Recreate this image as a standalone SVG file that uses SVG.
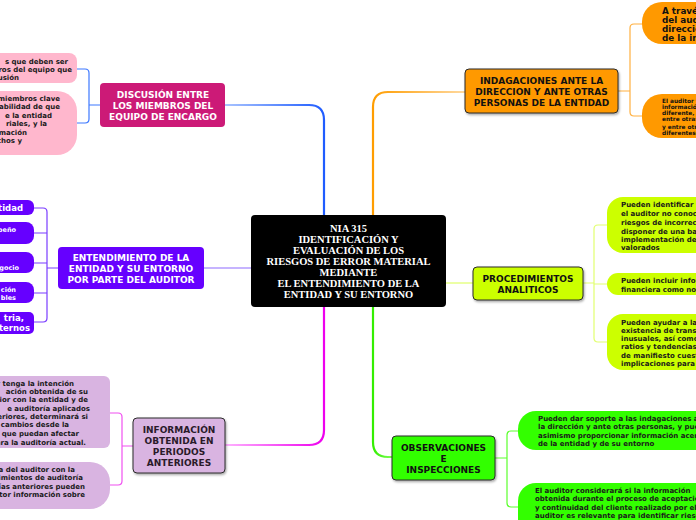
<svg xmlns="http://www.w3.org/2000/svg" width="696" height="520" viewBox="0 0 696 520">
<defs>
<style>
.t{font-family:"DejaVu Sans",Verdana,sans-serif;font-weight:bold}
.m{font-size:9px;text-anchor:middle}
.c{font-size:7px;fill:#1a1a1a}
.e{text-anchor:end}
.w{fill:#ffffff}
.ctr{font-family:"Liberation Serif","Times New Roman",serif;font-weight:bold;font-size:10.5px;fill:#ffffff;text-anchor:middle}
.bd{stroke:#2b2b2b;stroke-width:1}
.cn{fill:none;stroke-linecap:round}
</style>
<linearGradient id="gBlue" gradientUnits="userSpaceOnUse" x1="225" y1="0" x2="324" y2="0"><stop offset="0" stop-color="#a9c4ff"/><stop offset="1" stop-color="#1f5cff"/></linearGradient>
<linearGradient id="gOrange" gradientUnits="userSpaceOnUse" x1="465" y1="0" x2="373" y2="0"><stop offset="0" stop-color="#ffd9a0"/><stop offset="1" stop-color="#ff9d00"/></linearGradient>
<linearGradient id="gMag" gradientUnits="userSpaceOnUse" x1="225" y1="0" x2="324" y2="0"><stop offset="0" stop-color="#ffb3ff"/><stop offset="1" stop-color="#ee00ee"/></linearGradient>
<linearGradient id="gGreen" gradientUnits="userSpaceOnUse" x1="392" y1="0" x2="373" y2="0"><stop offset="0" stop-color="#7dff55"/><stop offset="1" stop-color="#33ee00"/></linearGradient>
<filter id="sh" x="-10%" y="-10%" width="130%" height="140%"><feDropShadow dx="1" dy="1.5" stdDeviation="0.8" flood-color="#000" flood-opacity="0.35"/></filter>
</defs>
<rect width="696" height="520" fill="#ffffff"/>

<g id="connectors">
<path class="cn" d="M324,215 V120 Q324,105 309,105 H225" stroke="url(#gBlue)" stroke-width="2.2"/>
<path class="cn" d="M373,215 V107 Q373,92 388,92 H465" stroke="url(#gOrange)" stroke-width="2.2"/>
<path class="cn" d="M324,307 V430 Q324,445 309,445 H225" stroke="url(#gMag)" stroke-width="2.2"/>
<path class="cn" d="M373,307 V442 Q373,457 388,457 H392" stroke="url(#gGreen)" stroke-width="2.2"/>
<path class="cn" d="M251,268 H204" stroke="#b49cff" stroke-width="1.5"/>
<path class="cn" d="M446,283 H473" stroke="#e6ff88" stroke-width="1.5"/>

<path class="cn" d="M77,69 H85 Q89,69 89,73 V119 Q89,123 85,123 H77 M89,105 H100" stroke="#3d78ff" stroke-width="1.2"/>
<path class="cn" d="M34,208 H43 Q47,208 47,212 V318 Q47,322 43,322 H34 M34,233 H47 M34,263 H47 M34,293 H47 M47,268 H58" stroke="#7a3cff" stroke-width="1.2"/>
<path class="cn" d="M110,413 H118 Q122,413 122,417 V481 Q122,485 118,485 H110 M122,446 H133" stroke="#f050f0" stroke-width="1.2"/>
<path class="cn" d="M642,24 H634 Q630,24 630,28 V112 Q630,116 634,116 H642 M618,91 H630" stroke="#ffb040" stroke-width="1.2"/>
<path class="cn" d="M607,225 H598 Q594,225 594,229 V338 Q594,342 598,342 H607 M594,284 H607 M583,283 H594" stroke="#e2ff70" stroke-width="1.2"/>
<path class="cn" d="M518,431 H511 Q507,431 507,435 V503 Q507,507 511,507 H518 M495,458 H507" stroke="#5cff2e" stroke-width="1.2"/>
</g>

<g id="center">
<rect x="251" y="215" width="195" height="92" rx="4" fill="#000000"/>
<text class="ctr" x="348.5" y="232">NIA 315</text>
<text class="ctr" x="348.5" y="243">IDENTIFICACIÓN Y</text>
<text class="ctr" x="348.5" y="254">EVALUACIÓN DE LOS</text>
<text class="ctr" x="348.5" y="265">RIESGOS DE ERROR MATERIAL</text>
<text class="ctr" x="348.5" y="276">MEDIANTE</text>
<text class="ctr" x="348.5" y="287">EL ENTENDIMIENTO DE LA</text>
<text class="ctr" x="348.5" y="298">ENTIDAD Y SU ENTORNO</text>
</g>

<g id="discusion">
<rect x="100" y="83" width="125" height="44" rx="4" fill="#cc1a77"/>
<text class="t m w" x="163" y="98">DISCUSIÓN ENTRE</text>
<text class="t m w" x="163" y="109">LOS MIEMBROS DEL</text>
<text class="t m w" x="163" y="120">EQUIPO DE ENCARGO</text>
</g>
<g id="discusion-1">
<rect x="-30" y="53" width="107" height="30" rx="8" fill="#ffb7cd"/>
<text class="t c e" x="68" y="63.5">s que deben ser</text>
<text class="t c e" x="72" y="71.5">ros del equipo que</text>
<text class="t c e" x="19" y="79.5">usión</text>
</g>
<g id="discusion-2">
<rect x="-30" y="91" width="107" height="64" rx="20" fill="#ffb7cd"/>
<text class="t c e" x="60" y="100.5">miembros clave</text>
<text class="t c e" x="60" y="108.5">abilidad de que</text>
<text class="t c e" x="52" y="117.5">e la entidad</text>
<text class="t c e" x="47" y="125.5">riales, y la</text>
<text class="t c e" x="27" y="134.5">rmación</text>
<text class="t c e" x="22" y="142.5">chos y</text>
</g>

<g id="entendimiento">
<rect x="58" y="247" width="146" height="42" rx="4" fill="#6600ff"/>
<text class="t m w" x="131" y="261">ENTENDIMIENTO DE LA</text>
<text class="t m w" x="131" y="272">ENTIDAD Y SU ENTORNO</text>
<text class="t m w" x="131" y="283">POR PARTE DEL AUDITOR</text>
</g>
<g id="ent-1"><rect x="-20" y="200" width="54" height="15" rx="6" fill="#6600ff"/><text class="t e w" style="font-size:8.5px" x="23" y="211">tidad</text></g>
<g id="ent-2"><rect x="-20" y="222" width="54" height="22" rx="8" fill="#6600ff"/><text class="t e w" style="font-size:6.5px" x="16" y="231.5">peño</text></g>
<g id="ent-3"><rect x="-20" y="252" width="54" height="21" rx="8" fill="#6600ff"/><text class="t e w" style="font-size:6.5px" x="19" y="270">gocio</text></g>
<g id="ent-4"><rect x="-20" y="282" width="54" height="21" rx="8" fill="#6600ff"/><text class="t e w" style="font-size:6.5px" x="16" y="291.5">ción</text><text class="t e w" style="font-size:6.5px" x="16" y="299.5">bles</text></g>
<g id="ent-5"><rect x="-20" y="312" width="54" height="22" rx="5" fill="#6600ff"/><text class="t e w" style="font-size:8.5px" x="24" y="321">tria,</text><text class="t e w" style="font-size:8.5px" x="30" y="331">cternos</text></g>

<g id="informacion">
<rect x="133" y="418" width="92" height="55" rx="4" fill="#d9b4e1" class="bd" filter="url(#sh)"/>
<text class="t m" fill="#2a1a2a" x="179" y="433">INFORMACIÓN</text>
<text class="t m" fill="#2a1a2a" x="179" y="444">OBTENIDA EN</text>
<text class="t m" fill="#2a1a2a" x="179" y="455">PERIODOS</text>
<text class="t m" fill="#2a1a2a" x="179" y="466">ANTERIORES</text>
</g>
<g id="info-1">
<rect x="-30" y="376" width="140" height="72" rx="6" fill="#d9b4e1"/>
<text class="t c e" x="74" y="385.5">r tenga la intención</text>
<text class="t c e" x="88" y="393.5">ación obtenida de su</text>
<text class="t c e" x="88" y="401.5">rior con la entidad y de</text>
<text class="t c e" x="90" y="410.5">e auditoría aplicados</text>
<text class="t c e" x="88" y="418.5">eriores, determinará si</text>
<text class="t c e" x="69" y="426.5">cambios desde la</text>
<text class="t c e" x="79" y="435.5">que puedan afectar</text>
<text class="t c e" x="86" y="444.5">ara la auditoría actual.</text>
</g>
<g id="info-2">
<rect x="-30" y="462" width="140" height="47" rx="20" fill="#d9b4e1"/>
<text class="t c e" x="75" y="471.5">a del auditor con la</text>
<text class="t c e" x="83" y="479.5">imientos de auditoría</text>
<text class="t c e" x="85" y="488.5">ías anteriores pueden</text>
<text class="t c e" x="85" y="496.5">itor información sobre</text>
</g>

<g id="indagaciones">
<rect x="465" y="69" width="153" height="44" rx="4" fill="#ff9900" class="bd" filter="url(#sh)"/>
<text class="t m" fill="#111" x="541.5" y="84">INDAGACIONES ANTE LA</text>
<text class="t m" fill="#111" x="541.5" y="95">DIRECCION Y ANTE OTRAS</text>
<text class="t m" fill="#111" x="541.5" y="106">PERSONAS DE LA ENTIDAD</text>
</g>
<g id="indag-1">
<rect x="642" y="2" width="90" height="42" rx="20" fill="#ff9900"/>
<text class="t" style="font-size:8.8px" fill="#111" x="662" y="13.5">A travé</text>
<text class="t" style="font-size:8.8px" fill="#111" x="662" y="22.8">del audi</text>
<text class="t" style="font-size:8.8px" fill="#111" x="662" y="32.1">direcció</text>
<text class="t" style="font-size:8.8px" fill="#111" x="662" y="41.4">de la int</text>
</g>
<g id="indag-2">
<rect x="642" y="94" width="90" height="44" rx="20" fill="#ff9900"/>
<text class="t" style="font-size:5.8px" fill="#111" x="662" y="103">El auditor t</text>
<text class="t" style="font-size:5.8px" fill="#111" x="662" y="109">informació</text>
<text class="t" style="font-size:5.8px" fill="#111" x="662" y="115">diferente, </text>
<text class="t" style="font-size:5.8px" fill="#111" x="662" y="121">entre otras</text>
<text class="t" style="font-size:5.8px" fill="#111" x="662" y="129">y entre otr</text>
<text class="t" style="font-size:5.8px" fill="#111" x="662" y="135">diferentes</text>
</g>

<g id="procedimientos">
<rect x="473" y="267" width="110" height="33" rx="4" fill="#ccff00" class="bd" filter="url(#sh)"/>
<text class="t m" fill="#111" x="528" y="282">PROCEDIMIENTOS</text>
<text class="t m" fill="#111" x="528" y="293">ANALITICOS</text>
</g>
<g id="proc-1">
<rect x="607" y="197" width="120" height="56" rx="16" fill="#ccff00"/>
<text class="t c" x="621" y="206.5">Pueden identificar as</text>
<text class="t c" x="621" y="215.5">el auditor no conocía</text>
<text class="t c" x="621" y="224.5">riesgos de incorrecci</text>
<text class="t c" x="621" y="233.5">disponer de una bas</text>
<text class="t c" x="621" y="241.5">implementación de r</text>
<text class="t c" x="621" y="249.5">valorados</text>
</g>
<g id="proc-2">
<rect x="607" y="273" width="120" height="22" rx="11" fill="#ccff00"/>
<text class="t c" x="621" y="282.5">Pueden incluir inform</text>
<text class="t c" x="621" y="291.5">financiera como no fi</text>
</g>
<g id="proc-3">
<rect x="607" y="314" width="120" height="56" rx="16" fill="#ccff00"/>
<text class="t c" x="621" y="324.5">Pueden ayudar a la</text>
<text class="t c" x="621" y="332.8">existencia de trans</text>
<text class="t c" x="621" y="341">inusuales, así como</text>
<text class="t c" x="621" y="349.3">ratios y tendencias</text>
<text class="t c" x="621" y="357.6">de manifiesto cuest</text>
<text class="t c" x="621" y="366">implicaciones para</text>
</g>

<g id="observaciones">
<rect x="392" y="436" width="103" height="44" rx="4" fill="#33ff00" class="bd" filter="url(#sh)"/>
<text class="t m" fill="#111" x="443.5" y="451">OBSERVACIONES</text>
<text class="t m" fill="#111" x="443.5" y="462">E</text>
<text class="t m" fill="#111" x="443.5" y="473">INSPECCIONES</text>
</g>
<g id="obs-1">
<rect x="518" y="411" width="200" height="39" rx="18" fill="#33ff00"/>
<text class="t c" x="538" y="420.5">Pueden dar soporte a las indagaciones a</text>
<text class="t c" x="538" y="429">la dirección y ante otras personas, y pue</text>
<text class="t c" x="538" y="437.5">asimismo proporcionar información acer</text>
<text class="t c" x="538" y="446">de la entidad y de su entorno</text>
</g>
<g id="obs-2">
<rect x="518" y="483" width="200" height="60" rx="18" fill="#33ff00"/>
<text class="t c" x="535" y="492.5">El auditor considerará si la información</text>
<text class="t c" x="535" y="501">obtenida  durante el proceso de aceptació</text>
<text class="t c" x="535" y="509.5">y continuidad del cliente realizado por el</text>
<text class="t c" x="535" y="518">auditor es relevante para identificar riesg</text>
</g>
</svg>
